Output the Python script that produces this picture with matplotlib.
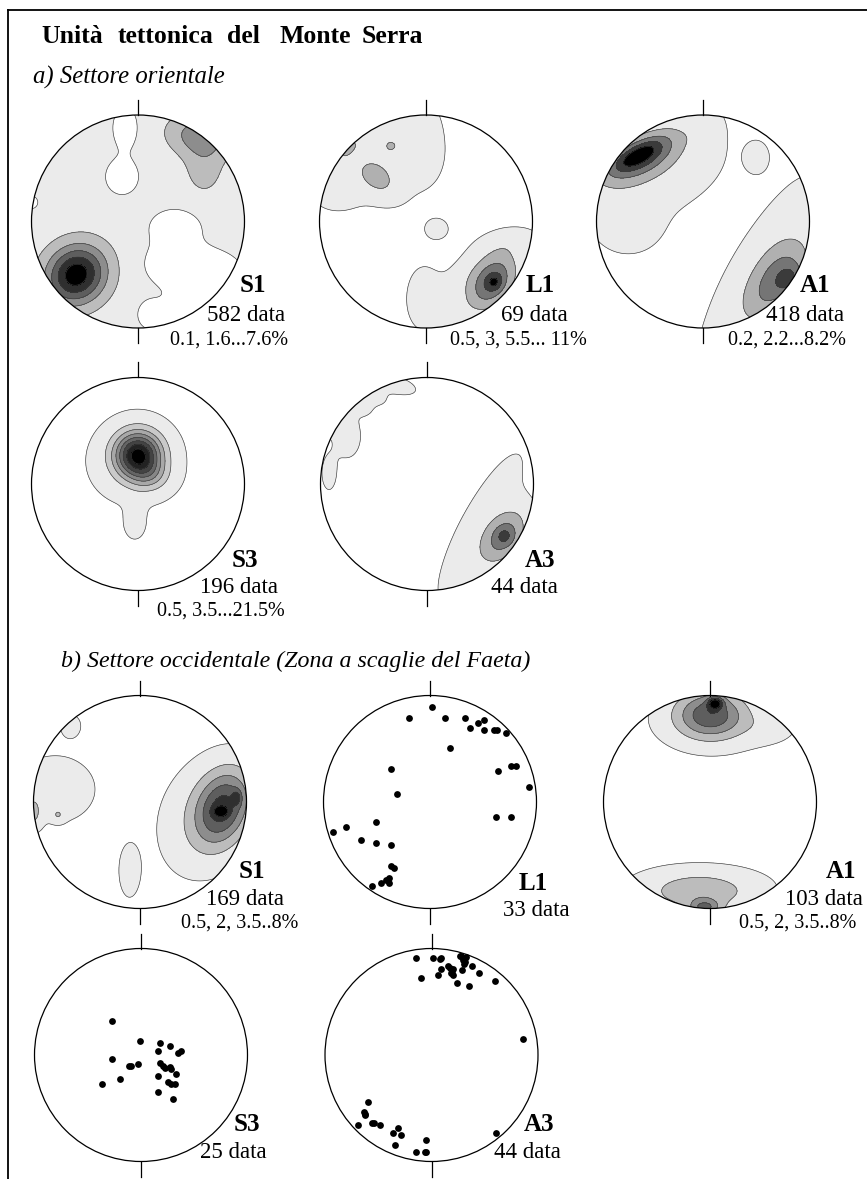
import numpy as np
import matplotlib
matplotlib.use('Agg')
import matplotlib.pyplot as plt
from matplotlib.patches import Circle

W, H = 867, 1179
R = 106.5
SERIF = 'Liberation Serif'

# density maxima for each contoured net: (x, y, sx, sy, angle, weight) on the unit net
s1a_base = 0.8
s1a_levels = [0.1, 1.6, 3.1, 4.6, 6.1, 7.6]
s1a_blobs = [(-0.58, -0.50, 0.20, 0.18, 40, 7.8), (0.58, 0.80, 0.20, 0.13, -10, 3.2),
             (0.62, 0.50, 0.13, 0.18, 0, 1.4), (-0.12, 0.88, 0.09, 0.15, 0, -1.6),
             (-0.15, 0.42, 0.12, 0.13, 0, -1.6), (0.35, -0.05, 0.17, 0.12, 0, -1.8),
             (0.35, -0.40, 0.20, 0.15, 0, -2.0), (0.70, -0.50, 0.20, 0.15, 0, -2.0),
             (0.55, -0.85, 0.25, 0.12, 0, -2.0), (0.10, -0.88, 0.08, 0.10, 0, -1.2),
             (-1.0, 0.18, 0.07, 0.07, 0, -1.0)]

l1a_base = 0.0
l1a_levels = [0.5, 3, 5.5, 8, 11]
l1a_blobs = [(0.62, -0.57, 0.20, 0.13, 55, 8.0), (0.64, -0.57, 0.05, 0.045, 55, 4.0),
             (0.78, -0.20, 0.20, 0.09, 10, 1.2), (0.40, -0.50, 0.25, 0.12, 40, 1.0),
             (-0.02, -0.72, 0.12, 0.22, 0, 1.2), (0.25, -0.85, 0.12, 0.10, 0, 0.9),
             (0.10, -0.07, 0.09, 0.08, 0, 1.0), (-0.50, 0.55, 0.38, 0.25, 0, 1.3),
             (-0.02, 0.80, 0.12, 0.25, 0, 1.2), (-0.85, 0.28, 0.15, 0.12, 0, 1.0),
             (-0.35, 0.90, 0.15, 0.08, 0, 0.9),
             (-0.46, 0.41, 0.15, 0.10, -40, 3.0), (-0.33, 0.71, 0.04, 0.035, 0, 3.0),
             (-0.72, 0.68, 0.10, 0.04, 45, 2.6)]

a1a_base = 0.0
a1a_levels = [0.2, 2.2, 4.2, 6.2, 8.2]
a1a_blobs = [(-0.62, 0.62, 0.18, 0.07, 28, 4.5), (-0.58, 0.60, 0.30, 0.13, 28, 5.5),
             (-0.40, 0.44, 0.36, 0.20, 25, 1.0), (0.0, 0.86, 0.09, 0.12, 0, 1.0),
             (-0.70, 0.0, 0.20, 0.18, 0, 0.8), (0.50, 0.60, 0.07, 0.09, 0, 0.9),
             (0.82, -0.55, 0.10, 0.08, 60, 3.0), (0.70, -0.55, 0.30, 0.15, 58, 5.0),
             (0.50, -0.50, 0.60, 0.15, 61, 0.9)]

s3a_base = 0.0
s3a_levels = [0.5, 3.5, 6.5, 9.5, 12.5, 15.5, 18.5, 21.5]
s3a_blobs = [(0.0, 0.27, 0.15, 0.15, 0, 22.0), (0.12, 0.08, 0.12, 0.10, 0, 4.0),
             (-0.05, 0.18, 0.30, 0.26, 0, 1.2), (-0.03, -0.38, 0.07, 0.10, 0, 1.2),
             (-0.02, -0.20, 0.06, 0.08, 0, 0.6)]

a3a_base = 0.0
a3a_levels = [0.5, 2.5, 4.5, 6.5, 8.5]
a3a_blobs = [(0.72, -0.50, 0.20, 0.12, 55, 5.0), (0.73, -0.49, 0.06, 0.06, 0, 2.0),
             (0.50, -0.40, 0.65, 0.16, 62, 1.0), (-0.30, 0.93, 0.15, 0.06, -15, 1.2),
             (-0.50, 0.85, 0.10, 0.06, -35, 1.1), (-0.62, 0.76, 0.10, 0.07, -45, 1.0),
             (-0.75, 0.45, 0.10, 0.16, 0, 1.1), (-0.92, 0.10, 0.06, 0.14, 0, 0.9),
             (-0.86, 0.62, 0.05, 0.10, -35, 2.5)]

s1b_base = 0.0
s1b_levels = [0.5, 2, 3.5, 5, 6.5, 8]
s1b_blobs = [(0.78, -0.05, 0.17, 0.25, -20, 6.0), (0.60, -0.15, 0.28, 0.38, -20, 1.5),
             (0.76, -0.09, 0.05, 0.035, 0, 2.5), (0.91, 0.04, 0.03, 0.05, 0, 2.5),
             (-0.80, 0.12, 0.30, 0.25, 0, 1.1), (-0.65, 0.72, 0.08, 0.09, 0, 0.9),
             (-1.0, -0.10, 0.05, 0.10, 0, 2.0), (-0.77, -0.12, 0.04, 0.04, 0, 1.5),
             (-0.10, -0.65, 0.08, 0.20, 0, 1.0)]

a1b_base = 0.0
a1b_levels = [0.5, 2, 3.5, 5, 6.5, 8]
a1b_blobs = [(0.05, 0.93, 0.05, 0.04, 0, 5.0), (0.0, 0.82, 0.22, 0.15, 0, 5.5),
             (0.05, 0.75, 0.45, 0.22, 0, 0.9), (0.55, 0.70, 0.18, 0.10, 0, 0.7),
             (-0.05, -0.99, 0.10, 0.05, 0, 4.0), (-0.10, -0.85, 0.35, 0.13, 0, 2.5),
             (-0.10, -0.78, 0.50, 0.15, 0, 0.7)]

# plotted poles, unit net coordinates
l1b_x = [0.016, -0.195, 0.142, 0.33, 0.45, 0.503, 0.377, 0.503, 0.597, 0.629, 0.714,
         0.189, -0.362, 0.638, 0.764, 0.811, 0.934, -0.314, 0.616, 0.764, -0.509,
         -0.792, -0.912, -0.645, -0.509, -0.362, -0.362, -0.34, -0.387, -0.456,
         -0.387, -0.541, -0.409]
l1b_y = [0.89, 0.79, 0.79, 0.79, 0.742, 0.767, 0.695, 0.673, 0.673, 0.673, 0.648,
         0.506, 0.314, 0.292, 0.34, 0.34, 0.145, 0.072, -0.142, -0.142, -0.189,
         -0.236, -0.286, -0.358, -0.384, -0.406, -0.597, -0.62, -0.714, -0.761,
         -0.761, -0.786, -0.736]

s3b_x = [-0.269, -0.009, 0.178, 0.272, 0.375, 0.344, 0.156, -0.269, -0.031, -0.094,
         -0.112, 0.178, 0.203, 0.225, 0.272, 0.281, 0.325, 0.156, -0.197, -0.369,
         0.25, 0.278, 0.319, 0.156, 0.297]
s3b_y = [0.322, 0.134, 0.11, 0.084, 0.037, 0.016, 0.037, -0.034, -0.081, -0.103,
         -0.103, -0.078, -0.103, -0.125, -0.109, -0.128, -0.178, -0.2, -0.225, -0.272,
         -0.25, -0.272, -0.272, -0.344, -0.415]

a3b_x = [-0.145, 0.011, 0.089, 0.267, 0.323, 0.298, 0.307, 0.377, 0.089, 0.157, 0.199,
         0.183, 0.204, 0.283, 0.064, 0.448, -0.098, 0.236, 0.354, 0.595, 0.31, 0.17,
         0.19, 0.28, 0.08, 0.315, -0.598, -0.63, -0.623, -0.692, -0.555, -0.483,
         -0.358, -0.311, -0.289, -0.342, -0.052, -0.145, -0.052, 0.604, 0.855,
         -0.626, -0.54, -0.06]
a3b_y = [0.912, 0.912, 0.912, 0.928, 0.921, 0.89, 0.859, 0.84, 0.809, 0.84, 0.803,
         0.771, 0.747, 0.794, 0.747, 0.769, 0.719, 0.672, 0.647, 0.696, 0.91, 0.82,
         0.785, 0.925, 0.905, 0.875, -0.443, -0.537, -0.562, -0.656, -0.634, -0.656,
         -0.728, -0.681, -0.753, -0.847, -0.8, -0.915, -0.915, -0.737, 0.15,
         -0.55, -0.64, -0.91]

fig = plt.figure(figsize=(W / 100, H / 100), dpi=100)


def px(x, y):
    return x / W, 1 - y / H


def net(cx, cy, r=R):
    ax = fig.add_axes([(cx - r) / W, 1 - (cy + r) / H, 2 * r / W, 2 * r / H])
    ax.set_xlim(-1, 1)
    ax.set_ylim(-1, 1)
    ax.axis('off')
    ax.add_patch(Circle((0, 0), 1, fill=False, ec='black', lw=0.9, clip_on=False, zorder=5))
    t = 15 / r
    ax.plot([0, 0], [1, 1 + t], color='black', lw=0.9, clip_on=False)
    ax.plot([0, 0], [-1, -1 - t], color='black', lw=0.9, clip_on=False)
    return ax


def density(ax, base, blobs, levels):
    g = np.linspace(-1.02, 1.02, 360)
    gx, gy = np.meshgrid(g, g)
    z = np.full_like(gx, base)
    for x0, y0, sx, sy, ang, w in blobs:
        a = np.deg2rad(ang)
        dx, dy = gx - x0, gy - y0
        u = dx * np.cos(a) + dy * np.sin(a)
        v = -dx * np.sin(a) + dy * np.cos(a)
        z += w * np.exp(-0.5 * ((u / sx) ** 2 + (v / sy) ** 2))
    n = len(levels)
    greys = [str(v) for v in np.linspace(0.92, 0.0, n)]
    clip = Circle((0, 0), 1, transform=ax.transData)
    cf = ax.contourf(gx, gy, z, levels=list(levels) + [1e9], colors=greys)
    cl = ax.contour(gx, gy, z, levels=levels, colors='#3a3a3a', linewidths=0.45)
    cf.set_clip_path(clip)
    cl.set_clip_path(clip)


def points(ax, xs, ys):
    ax.scatter(xs, ys, s=24, color='black', lw=0, zorder=6)


def label(x, y, s, size, weight='normal', ha='center', style='normal'):
    fig.text(*px(x, y), s, ha=ha, va='baseline', fontsize=size, family=SERIF,
             weight=weight, style=style)


# frame
fig.add_artist(plt.Line2D([8 / W, 1], [1 - 10 / H] * 2, color='black', lw=1.3))
fig.add_artist(plt.Line2D([8 / W] * 2, [1 - 10 / H, 0], color='black', lw=1.3))

# heading, one word at a time for the wide spacing
for word, x in zip(['Unità', 'tettonica', 'del', 'Monte', 'Serra'], [41, 118, 227, 279, 362]):
    label(x, 43, word, 18.5, weight='bold', ha='left')
label(33, 84, 'a) Settore orientale', 17.8, ha='left', style='italic')
label(61, 667, 'b) Settore occidentale (Zona a scaglie del Faeta)', 17.2, ha='left', style='italic')

# a) eastern sector
ax = net(138, 221.5)
density(ax, s1a_base, s1a_blobs, s1a_levels)
label(253, 292, 'S1', 18, 'bold')
label(246.5, 321, '582 data', 16.5)
label(229.5, 345, '0.1, 1.6...7.6%', 14.5)

ax = net(426, 221.5)
density(ax, l1a_base, l1a_blobs, l1a_levels)
label(540.5, 292, 'L1', 18, 'bold')
label(534.5, 321, '69 data', 16.5)
label(518.5, 345, '0.5, 3, 5.5... 11%', 14.5)

ax = net(703, 221.5)
density(ax, a1a_base, a1a_blobs, a1a_levels)
label(814.5, 292, 'A1', 18, 'bold')
label(805, 321, '418 data', 16.5)
label(787.5, 345, '0.2, 2.2...8.2%', 14.5)

ax = net(138, 484)
density(ax, s3a_base, s3a_blobs, s3a_levels)
label(245, 567, 'S3', 18, 'bold')
label(238.5, 593, '196 data', 16.5)
label(221, 616, '0.5, 3.5...21.5%', 14.5)

ax = net(427, 484)
density(ax, a3a_base, a3a_blobs, a3a_levels)
label(540, 567, 'A3', 18, 'bold')
label(524.5, 593, '44 data', 16.5)

# b) western sector
ax = net(140, 802)
density(ax, s1b_base, s1b_blobs, s1b_levels)
label(251.5, 878, 'S1', 18, 'bold')
label(245, 905, '169 data', 16.5)
label(239.5, 928, '0.5, 2, 3.5..8%', 14.5)

ax = net(430, 802)
points(ax, l1b_x, l1b_y)
label(533, 890, 'L1', 18, 'bold')
label(536, 916, '33 data', 16.5)

ax = net(710, 802)
density(ax, a1b_base, a1b_blobs, a1b_levels)
label(841, 878, 'A1', 18, 'bold')
label(823.5, 905, '103 data', 16.5)
label(798, 928, '0.5, 2, 3.5..8%', 14.5)

ax = net(141, 1055)
points(ax, s3b_x, s3b_y)
label(246.5, 1131, 'S3', 18, 'bold')
label(233.5, 1158, '25 data', 16.5)

ax = net(431.5, 1055)
points(ax, a3b_x, a3b_y)
label(539.5, 1131, 'A3', 18, 'bold')
label(527.5, 1158, '44 data', 16.5)

fig.savefig('out.png', dpi=100)
